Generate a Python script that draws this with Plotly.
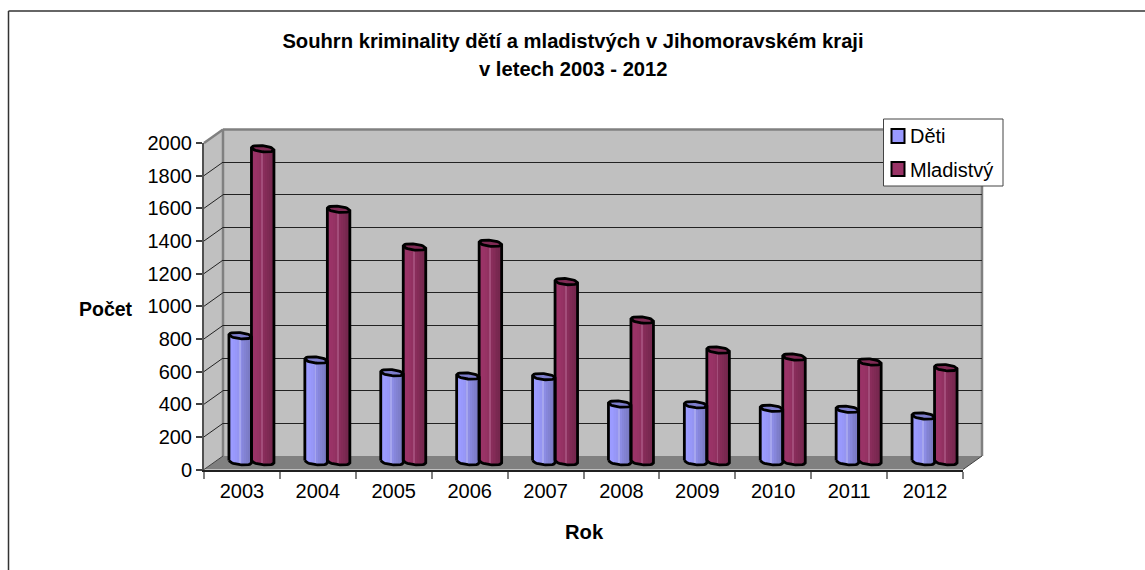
import plotly.graph_objects as go

# ---- data ----
years = ["2003", "2004", "2005", "2006", "2007", "2008", "2009", "2010", "2011", "2012"]
deti = [772, 623, 545, 525, 521, 353, 349, 327, 321, 280]
mladistvy = [1917, 1546, 1315, 1338, 1103, 868, 684, 641, 611, 576]
y_ticks = [0, 200, 400, 600, 800, 1000, 1200, 1400, 1600, 1800, 2000]
title_1 = "Souhrn kriminality dětí a mladistvých v Jihomoravském kraji"
title_2 = "v letech 2003 - 2012"
color_d = "#9999ff"
color_m = "#993366"

# ---- geometry (page pixels) ----
W, H = 1145, 570
FL, FR, FT, FB = 204, 963, 143, 469.5      # front plane of the 3D box
DX, DY = 19, -13.5                         # depth of the box
BAR_DX, BAR_DY = 9.5, -7.8                 # plane that the cylinders stand on
def px(v): return v / W
def py(v): return 1 - v / H
YMAX = 2000
Y2_PAD = 60                                # room under zero for the rounded cylinder feet
PX_PER_UNIT = (FB - FT) / YMAX
PX_PER_CAT = (FR - FL) / 10
BAR_PX = 22.5
ELL_A, ELL_B, TILT = BAR_PX / 2, 3.0, 0.1
A_CAT = ELL_A / PX_PER_CAT

def dom(a, b, size, flip=False):
    return [1 - b / size, 1 - a / size] if flip else [a / size, b / size]

def arc(dx_px):
    t = max(0.0, 1 - (dx_px / ELL_A) ** 2)
    return ELL_B * t ** 0.5

strips_d = ["#9b9bff", "#9b9bff", "#9999fc", "#9797f8", "#9595f2", "#a6a6ee", "#8c8ce4", "#8686da", "#8282d2", "#7e7ecb", "#7a7ac4", "#7777be"]
strips_m = ["#9a3367", "#9a3367", "#993366", "#963264", "#923161", "#a34d7a", "#892d5b", "#842b57", "#7f2a54", "#7a2851", "#76274e", "#72264c"]

traces = []

def cylinder(values, centre, colors, cap_color):
    n = len(colors)
    sw = 2 * A_CAT / n
    for k, col in enumerate(colors):
        off = -A_CAT + (k + 0.5) * sw
        dx = off * PX_PER_CAT
        bases = [(-arc(dx) - TILT * dx) / PX_PER_UNIT for _ in values]
        xs = [i + centre + off for i in range(len(values))]
        traces.append(go.Bar(x=xs, y=[v - b for v, b in zip(values, bases)], base=bases,
                             width=sw * 1.15, marker=dict(color=col, line=dict(width=0)),
                             xaxis="x2", yaxis="y2", showlegend=False, hoverinfo="skip"))
    steps = [i / 16 for i in range(17)]
    out_x, out_y, cap_x, cap_y = [], [], [], []
    for i, v in enumerate(values):
        cx = i + centre
        dxs = [-ELL_A + 2 * ELL_A * s for s in steps]
        xx = [cx + d / PX_PER_CAT for d in dxs]
        lo = [(-arc(d) - TILT * d) / PX_PER_UNIT for d in dxs]
        cap_lo = [v + (-arc(d) - TILT * d) / PX_PER_UNIT for d in dxs]
        cap_hi = [v + (arc(d) - TILT * d) / PX_PER_UNIT for d in dxs]
        cap_x += xx + xx[::-1] + [None]
        cap_y += cap_lo + cap_hi[::-1] + [None]
        out_x += xx + xx[::-1] + [xx[0], None] + xx + [None]
        out_y += lo + cap_hi[::-1] + [lo[0], None] + cap_lo + [None]
    traces.append(go.Scatter(x=cap_x, y=cap_y, mode="lines", fill="toself", fillcolor=cap_color,
                             line=dict(width=0), xaxis="x2", yaxis="y2", showlegend=False, hoverinfo="skip"))
    traces.append(go.Scatter(x=out_x, y=out_y, mode="lines", line=dict(color="black", width=2.8),
                             xaxis="x2", yaxis="y2", showlegend=False, hoverinfo="skip"))

traces.append(go.Scatter(x=[None], y=[None], xaxis="x", yaxis="y", showlegend=False, hoverinfo="skip"))
cylinder(deti, -BAR_PX / 2 / PX_PER_CAT, strips_d, "#7d7dcc")
cylinder(mladistvy, BAR_PX / 2 / PX_PER_CAT, strips_m, "#7f2a54")
traces.append(go.Scatter(x=[years[0]], y=[None], xaxis="x3", yaxis="y3", showlegend=False, hoverinfo="skip"))

hidden = dict(symbol="square", size=1, color="rgba(0,0,0,0)", line=dict(width=0))
traces.append(go.Scatter(x=[None], y=[None], mode="markers", name="Děti", legendgroup="a",
                         xaxis="x2", yaxis="y2", marker=hidden))
traces.append(go.Scatter(x=[None], y=[None], mode="markers", name="Mladistvý", legendgroup="b",
                         xaxis="x2", yaxis="y2", marker=hidden))

fig = go.Figure(traces)

def poly(pts, fill, line=None, lw=0):
    path = "M " + " L ".join(f"{px(x):.5f},{py(y):.5f}" for x, y in pts) + " Z"
    return dict(type="path", xref="paper", yref="paper", path=path, fillcolor=fill, layer="below",
                line=dict(color=line or fill, width=lw))

def seg(x0, y0, x1, y1, col, lw, layer="below"):
    return dict(type="line", xref="paper", yref="paper", x0=px(x0), y0=py(y0), x1=px(x1), y1=py(y1),
                line=dict(color=col, width=lw), layer=layer)

def rect(x0, y0, x1, y1, fill, line, lw):
    return dict(type="rect", xref="paper", yref="paper", x0=px(x0), y0=py(y0), x1=px(x1), y1=py(y1),
                fillcolor=fill, line=dict(color=line, width=lw), layer="above")

BL, BR, BT, BB = FL + DX, FR + DX, FT + DY, FB + DY
shapes = [
    poly([(BL, BT), (BR, BT), (BR, BB), (BL, BB)], "#c0c0c0"),
    poly([(FL, FT), (BL, BT), (BL, BB), (FL, FB)], "#c0c0c0"),
    poly([(FL, FB), (FR, FB), (BR, BB), (BL, BB)], "#808080"),
    seg(FL, FT, BL, BT, "#808080", 2.5),
    seg(BL, BT, BR, BT, "#808080", 2.5),
    seg(BL, BT, BL, BB, "#808080", 2.5),
    seg(BR, BT, BR, BB, "#808080", 2.5),
    seg(FR, FB, BR, BB, "#404040", 1),
    seg(FL, FB, BL, BB, "#404040", 1),
]
for t in y_ticks[1:-1]:
    yy = FB - t * PX_PER_UNIT
    shapes.append(seg(FL, yy, BL, yy + DY, "#222222", 1))
shapes.append(seg(8.5, 11, W + 5, 11, "#333333", 1.5, "above"))
shapes.append(seg(8.5, 11, 8.5, H + 5, "#333333", 1.5, "above"))
shapes.append(rect(883.5, 119, 1003, 186, "white", "#444444", 1))
shapes.append(rect(891.5, 129, 904.5, 143, color_d, "black", 2))
shapes.append(rect(891.5, 162, 904.5, 176, color_m, "black", 2))

fnt = "Liberation Sans, Arial, sans-serif"
axis_common = dict(showgrid=False, zeroline=False, fixedrange=True)
bold = dict(family=fnt, size=20.2, color="black")

fig.update_layout(
    width=W, height=H, margin=dict(l=0, r=0, t=0, b=0, autoexpand=False),
    paper_bgcolor="white", plot_bgcolor="rgba(0,0,0,0)",
    barmode="overlay", bargap=0, hovermode=False, shapes=shapes,
    font=dict(family=fnt, size=20, color="black"),
    title=dict(text=f"<b>{title_1}</b>", x=573 / W, xanchor="center", y=py(41), yanchor="middle", font=bold),
    annotations=[
        dict(text=f"<b>{title_2}</b>", xref="paper", yref="paper", x=573 / W, y=py(69), xanchor="center",
             yanchor="middle", showarrow=False, font=bold),
        dict(text="<b>Počet</b>", xref="paper", yref="paper", x=106 / W, y=py(309), xanchor="center",
             yanchor="middle", showarrow=False, font=dict(family=fnt, size=19.5, color="black")),
        dict(text="<b>Rok</b>", xref="paper", yref="paper", x=584 / W, y=py(532), xanchor="center",
             yanchor="middle", showarrow=False, font=bold),
    ],
    xaxis=dict(domain=dom(BL, BR, W), range=[-0.5, 9.5], visible=False, **axis_common),
    yaxis=dict(domain=dom(BT, BB, H, True), range=[0, YMAX], tickvals=y_ticks, showticklabels=False, ticks="",
               showline=False, zeroline=False, fixedrange=True, showgrid=True, gridcolor="#222222", gridwidth=1),
    xaxis2=dict(domain=dom(FL + BAR_DX, FR + BAR_DX, W), range=[-0.5, 9.5], visible=False, anchor="y2", **axis_common),
    yaxis2=dict(domain=dom(FT + BAR_DY, FB + BAR_DY + Y2_PAD * PX_PER_UNIT, H, True), range=[-Y2_PAD, YMAX],
                visible=False, anchor="x2", **axis_common),
    xaxis3=dict(domain=dom(FL, FR, W), type="category", categoryorder="array", categoryarray=years,
                tickmode="array", tickvals=years, ticktext=years, range=[-0.5, 9.5], tickson="boundaries",
                ticks="outside", ticklen=7, tickcolor="#808080", tickwidth=1.5, showline=True, linecolor="#202020",
                linewidth=2, anchor="y3", tickfont=dict(size=20), ticklabelstandoff=2, **axis_common),
    yaxis3=dict(domain=dom(FT, FB, H, True), range=[0, YMAX], tickmode="array", tickvals=y_ticks,
                ticks="outside", ticklen=6, tickcolor="#404040", tickwidth=1.5, showline=True, linecolor="#505050",
                linewidth=2, anchor="x3", tickfont=dict(size=20), **axis_common),
    legend=dict(x=870 / W, y=py(115.5), xanchor="left", yanchor="top", bgcolor="rgba(0,0,0,0)",
                borderwidth=0, traceorder="grouped", tracegroupgap=5.5, font=dict(size=20), itemsizing="trace"),
)

fig.write_html("out.html", config=dict(displayModeBar=False),
               post_script="document.body.style.margin='0';document.body.style.overflow='hidden';")
